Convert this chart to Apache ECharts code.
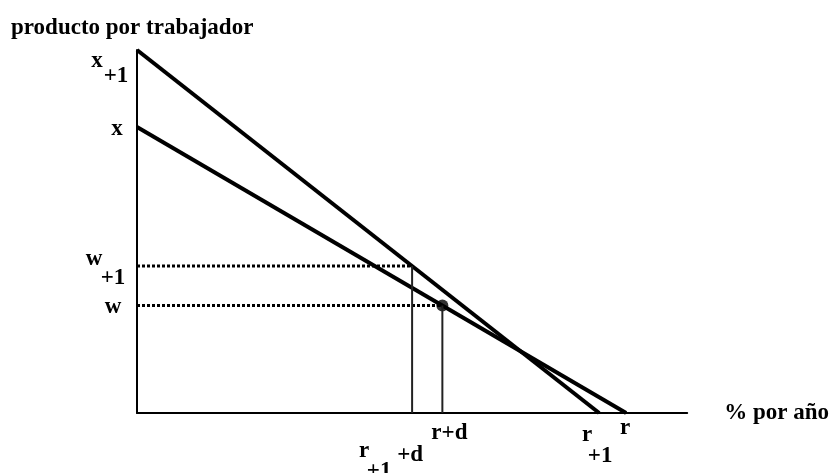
<!DOCTYPE html>
<html>
<head>
<meta charset="utf-8">
<script src="https://cdn.jsdelivr.net/npm/echarts@6/dist/echarts.min.js"></script>
<style>
  html, body { margin: 0; background: #fff; }
  #main { width: 832px; height: 473px; }
</style>
</head>
<body>
<div id="main"></div>
<script>
// values, both axes run 0-100
var lineNew = [[0, 100], [84, 0]];      // x+1 -> r+1
var lineOld = [[0, 78.8], [88.9, 0]];   // x -> r
var wNew = 40.5, rNewD = 50;            // w+1, r+1+d
var wOld = 29.6, rOldD = 55.5;          // w, r+d

// text pieces: [text, anchor point, dx, dy] (dx/dy = centre offset in px)
var labels = [
  ['x', [0, 100], -40, 11], ['+1', [0, 100], -21, 26],
  ['x', [0, 78.8], -20, 2],
  ['w', [0, wNew], -43, -7], ['+1', [0, wNew], -24, 12],
  ['w', [0, wOld], -24, 2],
  ['r+d', [rOldD, 0], 7, 20],
  ['r', [rNewD, 0], -48, 38], ['+1', [rNewD, 0], -33, 58], ['+d', [rNewD, 0], -2, 42],
  ['r', [84, 0], -12, 22], ['+1', [84, 0], 1, 43],
  ['r', [88.9, 0], -1, 15]
];

var font = '"Liberation Serif", "Times New Roman", serif';
var chart = echarts.init(document.getElementById('main'));

var option = {
  animation: false,
  grid: { left: 137, right: 144, top: 50, bottom: 60 },
  xAxis: {
    type: 'value', min: 0, max: 100,
    name: '% por año', nameLocation: 'end', nameGap: 37,
    nameTextStyle: { fontFamily: font, fontWeight: 'bold', fontSize: 23, color: '#000' },
    axisLine: { lineStyle: { color: '#000', width: 2 } },
    axisTick: { show: false }, axisLabel: { show: false }, splitLine: { show: false }
  },
  yAxis: {
    type: 'value', min: 0, max: 100,
    axisLine: { lineStyle: { color: '#000', width: 2 } },
    axisTick: { show: false }, axisLabel: { show: false }, splitLine: { show: false }
  },
  series: [
    {
      type: 'line', data: lineNew, showSymbol: false,
      lineStyle: { color: '#000', width: 4 }
    },
    {
      type: 'line', data: lineOld, showSymbol: false,
      lineStyle: { color: '#000', width: 4 }
    },
    { // dotted w+1
      type: 'line', data: [[0, wNew], [rNewD, wNew]], showSymbol: false,
      lineStyle: { color: '#000', width: 3, type: [3, 2] }
    },
    { // dotted w
      type: 'line', data: [[0, wOld], [rOldD, wOld]], showSymbol: false,
      lineStyle: { color: '#000', width: 3, type: [3, 2] }
    },
    {
      type: 'line', data: [[rNewD, wNew], [rNewD, 0]], showSymbol: false,
      lineStyle: { color: '#222', width: 2 }
    },
    {
      type: 'line', data: [[rOldD, wOld], [rOldD, 0]], showSymbol: false,
      lineStyle: { color: '#222', width: 2 }
    },
    {
      type: 'scatter', data: [[rOldD, wOld]], symbolSize: 12,
      itemStyle: { color: '#000' }
    }
  ]
};

chart.setOption(option);

// place the text once the scales are known
var graphics = [{
  type: 'text', left: 11, top: 17,
  style: { text: 'producto por trabajador', font: 'bold 23px ' + font, fill: '#000' }
}];
labels.forEach(function (l) {
  var p = chart.convertToPixel({ gridIndex: 0 }, l[1]);
  graphics.push({
    type: 'text', x: p[0] + l[2], y: p[1] + l[3],
    style: {
      text: l[0], font: 'bold 23px ' + font, fill: '#000',
      align: 'center', verticalAlign: 'middle'
    }
  });
});
chart.setOption({ graphic: graphics });
</script>
</body>
</html>
